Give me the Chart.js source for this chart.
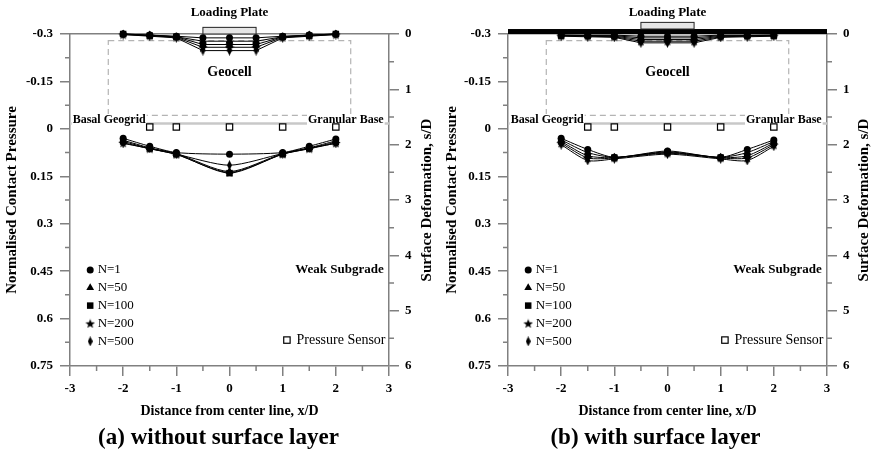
<!DOCTYPE html>
<html>
<head>
<meta charset="utf-8">
<script src="https://cdn.jsdelivr.net/npm/chart.js@4.4.1/dist/chart.umd.min.js"></script>
<style>
  html, body { margin: 0; padding: 0; background: #fff; }
  #wrap { position: relative; width: 874px; height: 457px; }
  canvas { position: absolute; top: 0; }
</style>
</head>
<body>
<div id="wrap">
  <canvas id="chartA" width="437" height="457" style="left:0"></canvas>
  <canvas id="chartB" width="437" height="457" style="left:437px"></canvas>
</div>
<script>
// positions along the section (x/D)
const xPressure = [-2, -1.5, -1, 0, 1, 1.5, 2];
const xSurface = [-2, -1.5, -1, -0.5, 0, 0.5, 1, 1.5, 2];
const xSensor = [-1.5, -1, 0, 1, 2];
const cycles = ['N=1', 'N=50', 'N=100', 'N=200', 'N=500'];

const distanceTicks = [-3, -2, -1, 0, 1, 2, 3];
const pressureTicks = [-0.3, -0.15, 0, 0.15, 0.3, 0.45, 0.6, 0.75];
const deformTicks = [0, 1, 2, 3, 4, 5, 6];

// (a) without surface layer - normalised contact pressure, one row per cycle
const pressureA = [
  [0.030, 0.055, 0.075, 0.080, 0.075, 0.055, 0.032],
  [0.036, 0.060, 0.078, 0.135, 0.078, 0.060, 0.038],
  [0.040, 0.062, 0.080, 0.140, 0.080, 0.062, 0.042],
  [0.044, 0.063, 0.081, 0.138, 0.080, 0.063, 0.045],
  [0.046, 0.062, 0.080, 0.115, 0.078, 0.061, 0.046]
];
// (a) surface deformation s/D
const surfaceA = [
  [0.00, 0.02, 0.04, 0.07, 0.07, 0.07, 0.04, 0.02, 0.00],
  [0.00, 0.02, 0.05, 0.13, 0.13, 0.13, 0.05, 0.02, 0.00],
  [0.00, 0.03, 0.05, 0.19, 0.19, 0.19, 0.05, 0.03, 0.00],
  [0.01, 0.03, 0.06, 0.24, 0.24, 0.24, 0.06, 0.03, 0.01],
  [0.01, 0.04, 0.07, 0.30, 0.30, 0.30, 0.07, 0.04, 0.01]
];

// (b) with surface layer
const pressureB = [
  [0.030, 0.065, 0.090, 0.070, 0.090, 0.065, 0.035],
  [0.035, 0.075, 0.090, 0.073, 0.090, 0.075, 0.040],
  [0.040, 0.085, 0.091, 0.075, 0.091, 0.085, 0.045],
  [0.045, 0.092, 0.092, 0.077, 0.092, 0.092, 0.050],
  [0.050, 0.100, 0.095, 0.080, 0.095, 0.100, 0.055]
];
const surfaceB = [
  [0.02, 0.02, 0.02, 0.04, 0.04, 0.04, 0.02, 0.02, 0.02],
  [0.02, 0.03, 0.03, 0.07, 0.07, 0.07, 0.03, 0.03, 0.02],
  [0.03, 0.03, 0.04, 0.10, 0.10, 0.10, 0.04, 0.03, 0.03],
  [0.03, 0.04, 0.05, 0.13, 0.13, 0.13, 0.05, 0.04, 0.03],
  [0.04, 0.05, 0.06, 0.16, 0.16, 0.16, 0.06, 0.05, 0.04]
];

const SERIF = "'Liberation Serif', 'Times New Roman', serif";
const AXIS_GREY = '#808080';
Chart.defaults.font.family = SERIF;
Chart.defaults.color = '#000';

function starImg(size) {
  const c = document.createElement('canvas');
  c.width = c.height = size;
  const g = c.getContext('2d');
  g.fillStyle = '#000';
  g.beginPath();
  for (let i = 0; i < 10; i++) {
    const r = i % 2 ? size * 0.21 : size / 2;
    const a = -Math.PI / 2 + i * Math.PI / 5;
    g.lineTo(size / 2 + r * Math.cos(a), size / 2 + 0.5 + r * Math.sin(a));
  }
  g.closePath();
  g.fill();
  return c;
}
function diamondImg(w, h) {
  const c = document.createElement('canvas');
  c.width = w; c.height = h;
  const g = c.getContext('2d');
  g.fillStyle = '#000';
  g.beginPath();
  g.moveTo(w / 2, 0); g.lineTo(w, h / 2); g.lineTo(w / 2, h); g.lineTo(0, h / 2);
  g.closePath();
  g.fill();
  return c;
}
const markers = ['circle', 'triangle', 'rect', starImg(10), diamondImg(5, 10)];
const markerRadius = [3.5, 4.5, 4.6, 5, 5];

function buildDatasets(pressure, surface) {
  const ds = [];
  cycles.forEach((name, i) => {
    const common = {
      label: name, showLine: true, borderColor: '#000', backgroundColor: '#000',
      borderWidth: 1, pointStyle: markers[i], pointRadius: markerRadius[i],
      pointBorderWidth: 0, clip: false
    };
    ds.push({ ...common, yAxisID: 'y', tension: 0.25,
      data: xPressure.map((x, k) => ({ x, y: pressure[i][k] })) });
    ds.push({ ...common, yAxisID: 's', tension: 0,
      data: xSurface.map((x, k) => ({ x, y: surface[i][k] })) });
  });
  ds.push({
    label: 'Pressure Sensor', yAxisID: 'y', showLine: false,
    data: xSensor.map(x => ({ x, y: -0.006 })),
    pointStyle: 'rect', pointRadius: 4.5, backgroundColor: '#fff',
    borderColor: '#000', pointBorderWidth: 1.2, clip: false
  });
  return ds;
}

function textBox(ctx, txt, px, py, align, font) {
  ctx.font = font;
  ctx.textAlign = align;
  ctx.textBaseline = 'middle';
  const w = ctx.measureText(txt).width;
  const x0 = align === 'left' ? px : align === 'right' ? px - w : px - w / 2;
  ctx.fillStyle = '#fff';
  ctx.fillRect(x0 - 1, py - 6, w + 2, 11);
  ctx.fillStyle = '#000';
  ctx.fillText(txt, px, py);
}

const layersPlugin = {
  id: 'layers',
  beforeDatasetsDraw(chart, args, opts) {
    const { ctx, scales: { x, y, s } } = chart;
    ctx.save();
    // granular base / subgrade interface
    ctx.strokeStyle = '#c8c8c8';
    ctx.lineWidth = 2.5;
    ctx.beginPath();
    ctx.moveTo(x.getPixelForValue(-3), y.getPixelForValue(-0.017));
    ctx.lineTo(x.getPixelForValue(3), y.getPixelForValue(-0.017));
    ctx.stroke();
    // geocell mattress
    ctx.strokeStyle = '#b4b4b4';
    ctx.lineWidth = 1.2;
    ctx.setLineDash([6, 4]);
    const gx0 = x.getPixelForValue(-2.28), gx1 = x.getPixelForValue(2.28);
    const gy0 = s.getPixelForValue(0.12), gy1 = s.getPixelForValue(1.47);
    ctx.strokeRect(gx0, gy0, gx1 - gx0, gy1 - gy0);
    ctx.setLineDash([]);
    // surface layer
    let plateBase = 0;
    if (opts.surfaceLayer) {
      ctx.fillStyle = '#000';
      const t0 = s.getPixelForValue(-0.09), t1 = s.getPixelForValue(0);
      ctx.fillRect(x.getPixelForValue(-3), t0, x.getPixelForValue(3) - x.getPixelForValue(-3), t1 - t0);
      plateBase = -0.09;
    }
    // loading plate
    const px0 = x.getPixelForValue(-0.5), px1 = x.getPixelForValue(0.5);
    const py0 = s.getPixelForValue(plateBase - 0.12), py1 = s.getPixelForValue(plateBase);
    ctx.fillStyle = '#e6e6e6';
    ctx.fillRect(px0, py0, px1 - px0, py1 - py0);
    ctx.strokeStyle = '#222';
    ctx.lineWidth = 1;
    ctx.strokeRect(px0, py0, px1 - px0, py1 - py0);

    const bold12 = 'bold 12px ' + SERIF;
    textBox(ctx, 'Basal Geogrid', x.getPixelForValue(-2.95), y.getPixelForValue(-0.028), 'left', bold12);
    textBox(ctx, 'Granular Base', x.getPixelForValue(2.9), y.getPixelForValue(-0.028), 'right', bold12);
    ctx.fillStyle = '#000';
    ctx.font = 'bold 14px ' + SERIF;
    ctx.textAlign = 'center';
    ctx.textBaseline = 'middle';
    ctx.fillText('Geocell', x.getPixelForValue(0), s.getPixelForValue(0.7));
    ctx.font = 'bold 13px ' + SERIF;
    ctx.fillText('Loading Plate', x.getPixelForValue(0), s.getPixelForValue(-0.38));
    ctx.textAlign = 'right';
    ctx.fillText('Weak Subgrade', x.getPixelForValue(2.9), y.getPixelForValue(0.444));
    ctx.restore();
  },
  afterDraw(chart) {
    const { ctx, chartArea: a, scales: { x, y, s } } = chart;
    ctx.save();
    // legend
    ctx.fillStyle = '#000';
    ctx.strokeStyle = '#000';
    ctx.font = '13px ' + SERIF;
    ctx.textBaseline = 'middle';
    ctx.textAlign = 'left';
    cycles.forEach((name, i) => {
      const lx = x.getPixelForValue(-2.62);
      const ly = y.getPixelForValue(0.446 + i * 0.0565);
      Chart.helpers.drawPoint(ctx, { pointStyle: markers[i], radius: markerRadius[i], borderWidth: 0 }, lx, ly);
      ctx.fillStyle = '#000';
      ctx.fillText(name, x.getPixelForValue(-2.48), ly);
    });
    const sy = y.getPixelForValue(0.668);
    ctx.fillStyle = '#fff';
    ctx.lineWidth = 1.2;
    ctx.fillRect(x.getPixelForValue(1.08) - 3.2, sy - 3.2, 6.4, 6.4);
    ctx.strokeRect(x.getPixelForValue(1.08) - 3.2, sy - 3.2, 6.4, 6.4);
    ctx.fillStyle = '#000';
    ctx.font = '14px ' + SERIF;
    ctx.fillText('Pressure Sensor', x.getPixelForValue(1.26), sy);

    // minor ticks
    ctx.strokeStyle = AXIS_GREY;
    ctx.lineWidth = 1.5;
    ctx.beginPath();
    [-2.5, -1.5, -0.5, 0.5, 1.5, 2.5].forEach(v => {
      const px = x.getPixelForValue(v);
      ctx.moveTo(px, a.bottom); ctx.lineTo(px, a.bottom + 5);
    });
    [-0.225, -0.075, 0.075, 0.225, 0.375, 0.525, 0.675].forEach(v => {
      const py = y.getPixelForValue(v);
      ctx.moveTo(a.left - 5, py); ctx.lineTo(a.left, py);
    });
    [0.5, 1.5, 2.5, 3.5, 4.5, 5.5].forEach(v => {
      const py = s.getPixelForValue(v);
      ctx.moveTo(a.right, py); ctx.lineTo(a.right + 5, py);
    });
    ctx.stroke();

    // right axis title, reading bottom to top
    ctx.translate(s.right - 10, (a.top + a.bottom) / 2);
    ctx.rotate(-Math.PI / 2);
    ctx.fillStyle = '#000';
    ctx.font = 'bold 15px ' + SERIF;
    ctx.textAlign = 'center';
    ctx.fillText('Surface Deformation, s/D', 0, 0);
    ctx.restore();
  }
};

function axisGrid(len) {
  return { drawOnChartArea: false, drawTicks: true, tickLength: len, color: AXIS_GREY, lineWidth: 1.5 };
}
const tickFont = { size: 13, weight: 'bold' };

function makeChart(id, pressure, surface, caption, withLayer, leftWidth, rightWidth, ytPad) {
  return new Chart(document.getElementById(id), {
    type: 'scatter',
    data: { datasets: buildDatasets(pressure, surface) },
    plugins: [layersPlugin],
    options: {
      responsive: false,
      animation: false,
      layout: { padding: { top: 34, left: 0, right: 0, bottom: 0 } },
      plugins: {
        legend: { display: false },
        tooltip: { enabled: false },
        layers: { surfaceLayer: withLayer },
        title: {
          display: true, position: 'bottom', text: caption, color: '#000',
          font: { size: 23, weight: 'bold' }, padding: { top: 0, bottom: 5 }
        }
      },
      scales: {
        x: {
          type: 'linear', position: 'bottom', min: -3, max: 3,
          afterBuildTicks: sc => { sc.ticks = distanceTicks.map(v => ({ value: v })); },
          ticks: { font: tickFont, padding: 5, color: '#000' },
          grid: axisGrid(10),
          border: { color: AXIS_GREY, width: 1.5 },
          title: { display: true, text: 'Distance from center line, x/D', color: '#000',
            font: { size: 14, weight: 'bold' }, padding: { top: 0, bottom: 4.5 } },
          afterFit: sc => { sc.height = 58.4; }
        },
        xt: {
          type: 'linear', position: 'top', min: -3, max: 3,
          ticks: { display: false },
          grid: { drawOnChartArea: false, drawTicks: false },
          border: { color: AXIS_GREY, width: 1.5 },
          afterFit: sc => { sc.height = 0; }
        },
        y: {
          type: 'linear', position: 'left', min: -0.3, max: 0.75, reverse: true,
          afterBuildTicks: sc => { sc.ticks = pressureTicks.map(v => ({ value: v })); },
          ticks: { font: tickFont, padding: 7, color: '#000', callback: v => String(v) },
          grid: axisGrid(10),
          border: { color: AXIS_GREY, width: 1.5 },
          title: { display: true, text: 'Normalised Contact Pressure', color: '#000',
            font: { size: 15, weight: 'bold' }, padding: { top: ytPad, bottom: 0 } },
          afterFit: sc => { sc.width = leftWidth; }
        },
        s: {
          type: 'linear', position: 'right', min: 0, max: 6, reverse: true,
          afterBuildTicks: sc => { sc.ticks = deformTicks.map(v => ({ value: v })); },
          ticks: { font: tickFont, padding: 6, color: '#000' },
          grid: axisGrid(10),
          border: { color: AXIS_GREY, width: 1.5 },
          afterFit: sc => { sc.width = rightWidth; }
        }
      }
    }
  });
}

makeChart('chartA', pressureA, surfaceA, '(a) without surface layer', false, 70, 48, 3);
makeChart('chartB', pressureB, surfaceB, '(b) with surface layer', true, 71, 47, 6);
</script>
</body>
</html>
